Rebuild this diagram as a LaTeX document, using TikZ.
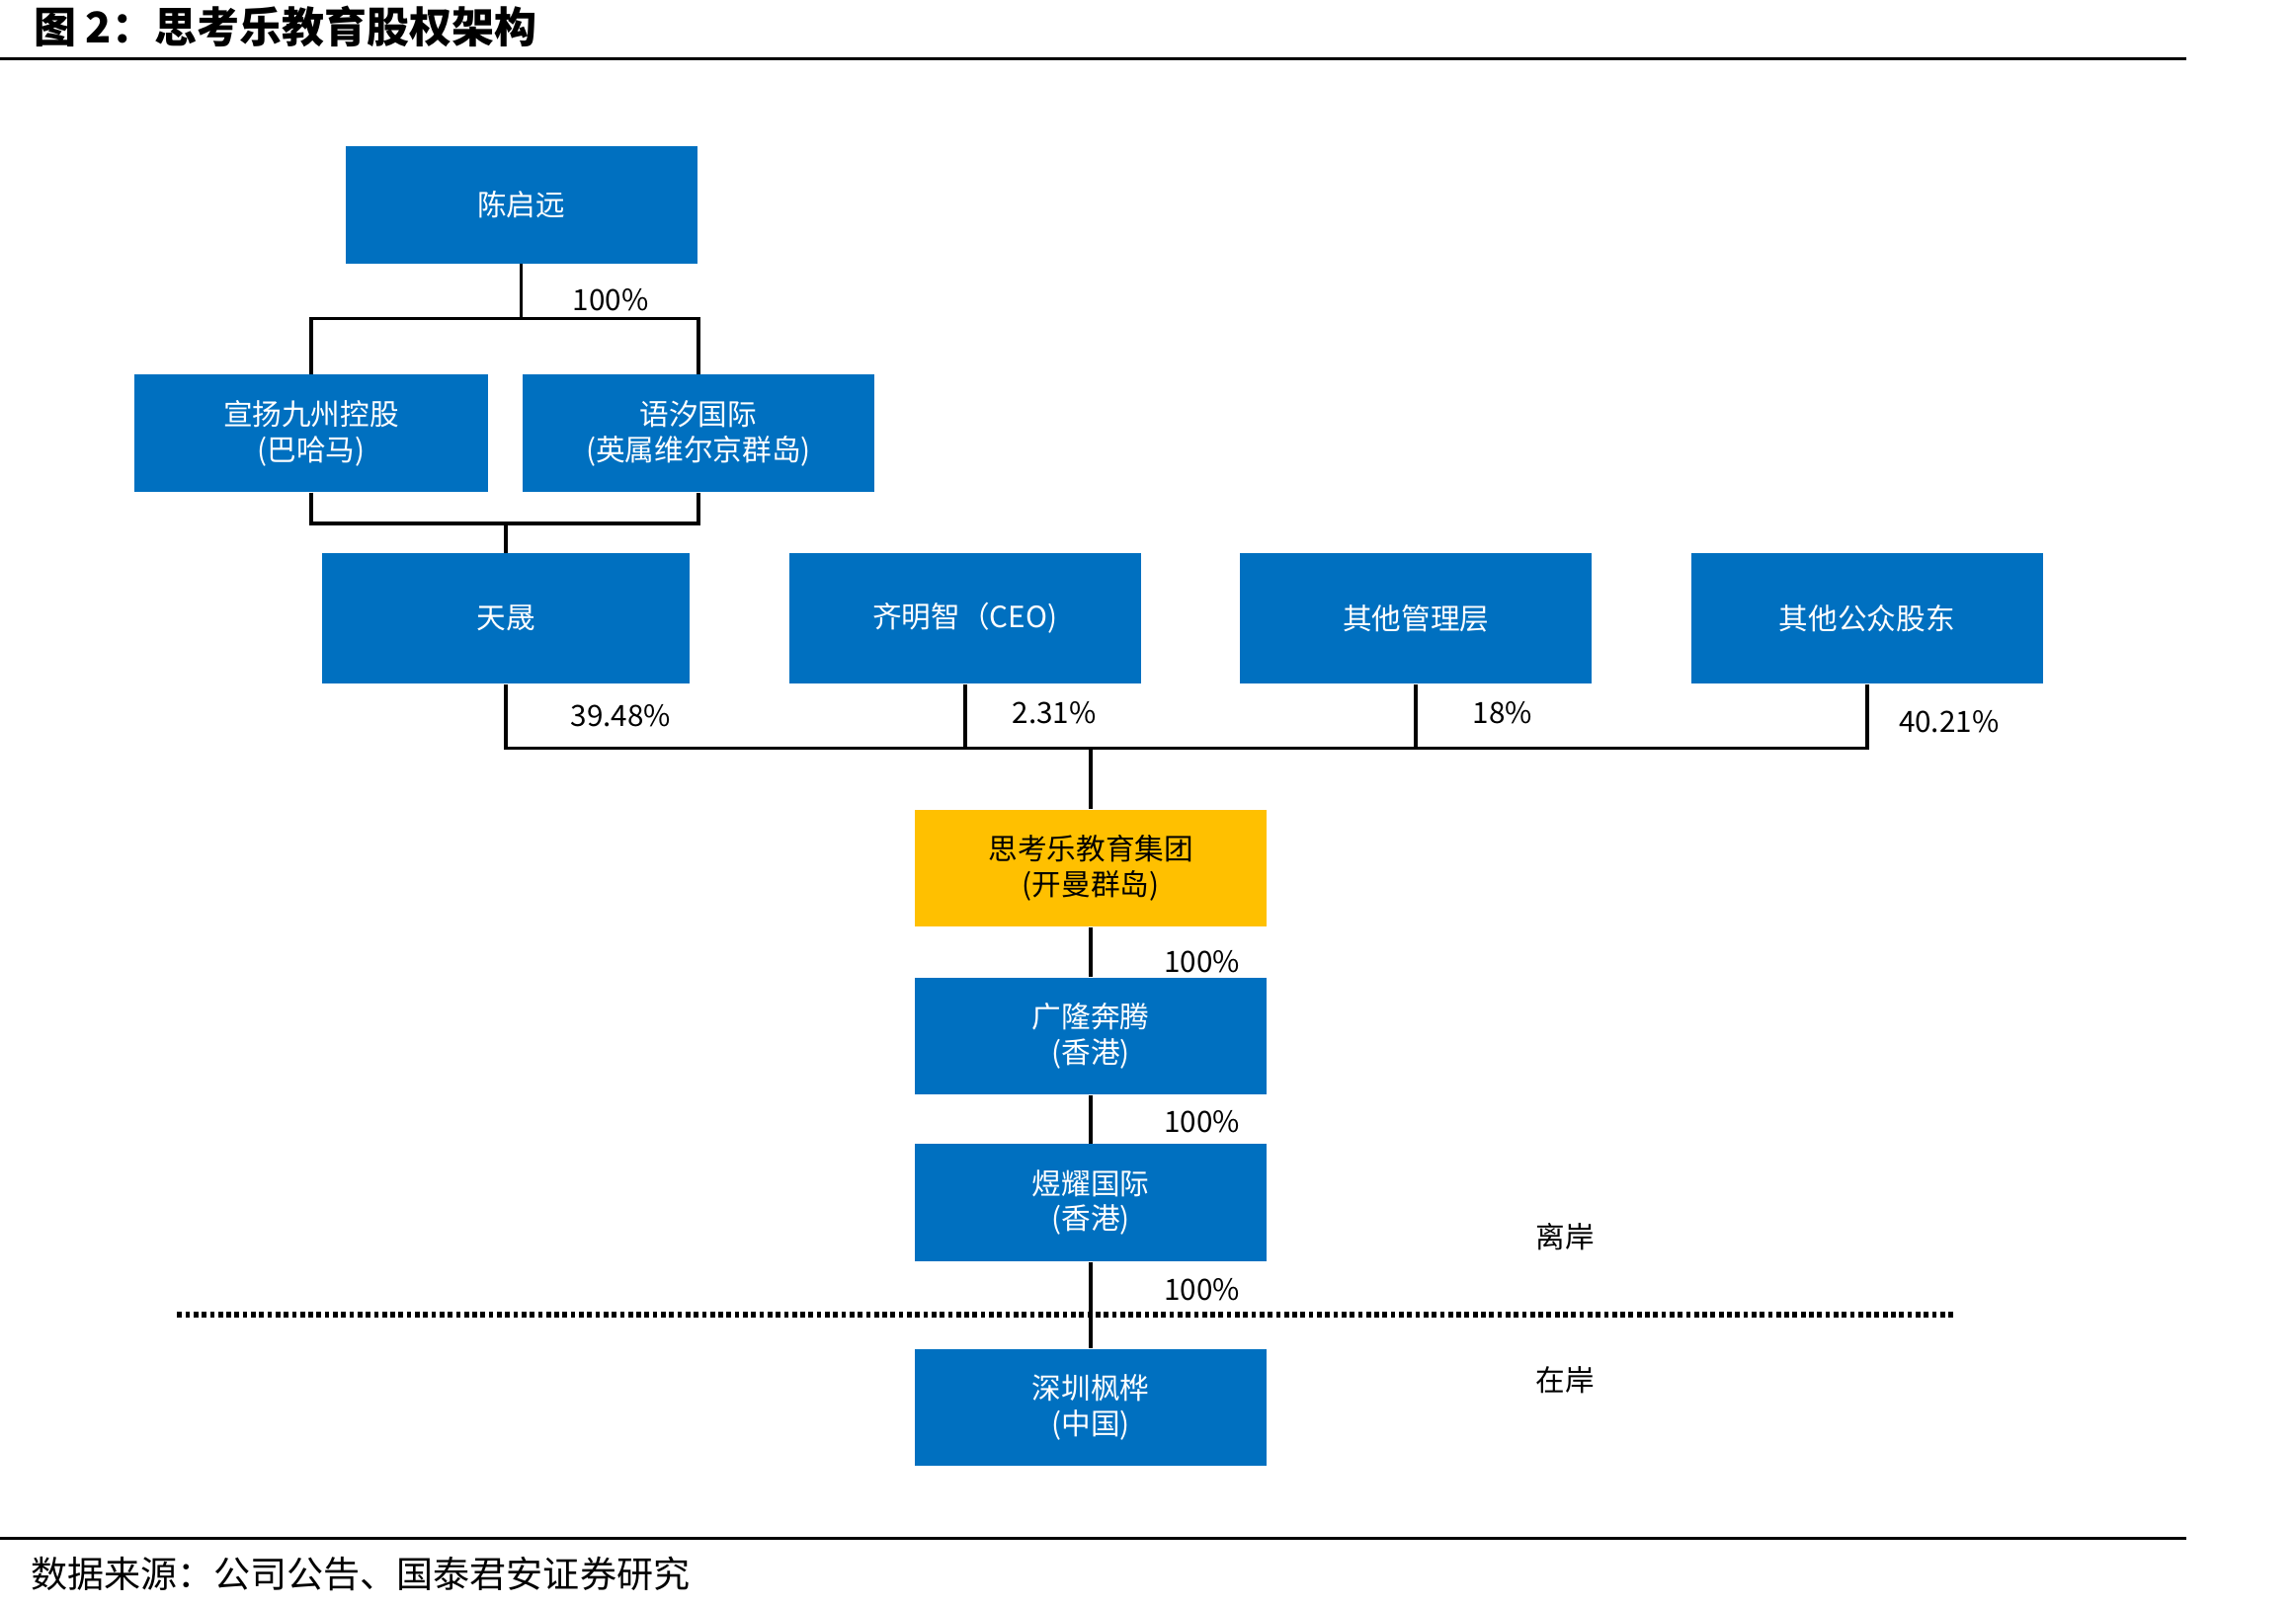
\documentclass[tikz,border=0pt]{standalone}
\usepackage{fontspec}
\setmainfont{Noto Sans CJK SC}
\newfontfamily\cjk{Noto Sans CJK SC}
\usepackage{tikz}
\usetikzlibrary{positioning, calc}
\definecolor{boxblue}{HTML}{0070C0}
\definecolor{boxgold}{HTML}{FFC000}

\begin{document}
\begin{tikzpicture}[
    x=0.5pt, y=-0.5pt,
    node distance=17pt,
    entity/.style={rectangle, fill=boxblue, text=white, align=center, inner sep=0pt, minimum width=120pt, minimum height=40pt, font=\cjk\fontsize{10}{12}\selectfont},
    holder/.style={entity, minimum height=44.5pt},
    target/.style={entity, fill=boxgold, text=black},
    pct/.style={font=\cjk\fontsize{10}{12}\selectfont, inner sep=0pt},
    conn/.style={line width=1.2pt},
    rule/.style={line width=1.1pt},
    shore/.style={line width=2pt, dash pattern=on 1.6pt off 1.2pt}
]
\useasboundingbox (0,0) rectangle (1568,1097);

\node[anchor=west, font=\cjk\bfseries\fontsize{14.5}{16}\selectfont] (title) at (16,18) {图 2：思考乐教育股权架构};
\coordinate (tl) at (0,40);
\coordinate (tr) at (1493,40);
\draw[rule] (tl) -- (tr);

\node[entity] (chen) at (356,140) {陈启远};
\node[entity, minimum width=120.5pt] (xuan) at (212.5,296) {宣扬九州控股\\(巴哈马)};
\node[entity] (yuxi) at (477,296) {语汐国际\\(英属维尔京群岛)};

\node[holder, minimum width=125.5pt] (tian) at (345.5,422.5) {天晟};
\node[holder] (qi) at (659,422.5) {齐明智（CEO)};
\node[holder] (mgmt) at (967,422.5) {其他管理层};
\node[holder] (pub) at (1275,422.5) {其他公众股东};

\node[target] (grp) at (745,593) {思考乐教育集团\\(开曼群岛)};
\node[entity, below=of grp] (gl) {广隆奔腾\\(香港)};
\node[entity, below=16.5pt of gl] (yy) {煜耀国际\\(香港)};
\node[entity, below=29.5pt of yy] (sz) {深圳枫桦\\(中国)};

\draw[conn] (chen.south) -- ++(0,-19pt);
\draw[conn] (xuan.north) -- ++(0,19pt) -| (yuxi.north);
\draw[conn] (xuan.south) -- ++(0,-10.5pt) -| (yuxi.south);
\draw[conn] (tian.north) -- ++(0,10.5pt);

\coordinate (bus) at (0,511);
\draw[conn] (tian.south) -- (tian.south |- bus) -| (pub.south);
\draw[conn] (qi.south) -- (qi.south |- bus);
\draw[conn] (mgmt.south) -- (mgmt.south |- bus);
\draw[conn] (grp.north) -- (grp.north |- bus);

\draw[conn] (grp.south) -- (gl.north);
\draw[conn] (gl.south) -- (yy.north);
\draw[conn] (yy.south) -- (sz.north);

\coordinate (dl) at (121,898);
\coordinate (dr) at (1335,898);
\draw[shore] (dl) -- (dr);

\node[pct] (p1) at (417,205) {100\%};
\node[pct] (p2) at (424,489) {39.48\%};
\node[pct] (p3) at (720,487) {2.31\%};
\node[pct] (p4) at (1026,487) {18\%};
\node[pct] (p5) at (1331,493) {40.21\%};
\node[pct] (p6) at (821,657) {100\%};
\node[pct] (p7) at (821,766) {100\%};
\node[pct] (p8) at (821,881) {100\%};
\node[pct] (off) at (1069,845) {离岸};
\node[pct] (on) at (1069,943) {在岸};

\coordinate (bl) at (0,1051);
\coordinate (br) at (1493,1051);
\draw[rule] (bl) -- (br);
\node[anchor=west, font=\cjk\fontsize{12.5}{14}\selectfont] (src) at (14,1075) {数据来源：公司公告、国泰君安证券研究};
\end{tikzpicture}
\end{document}
